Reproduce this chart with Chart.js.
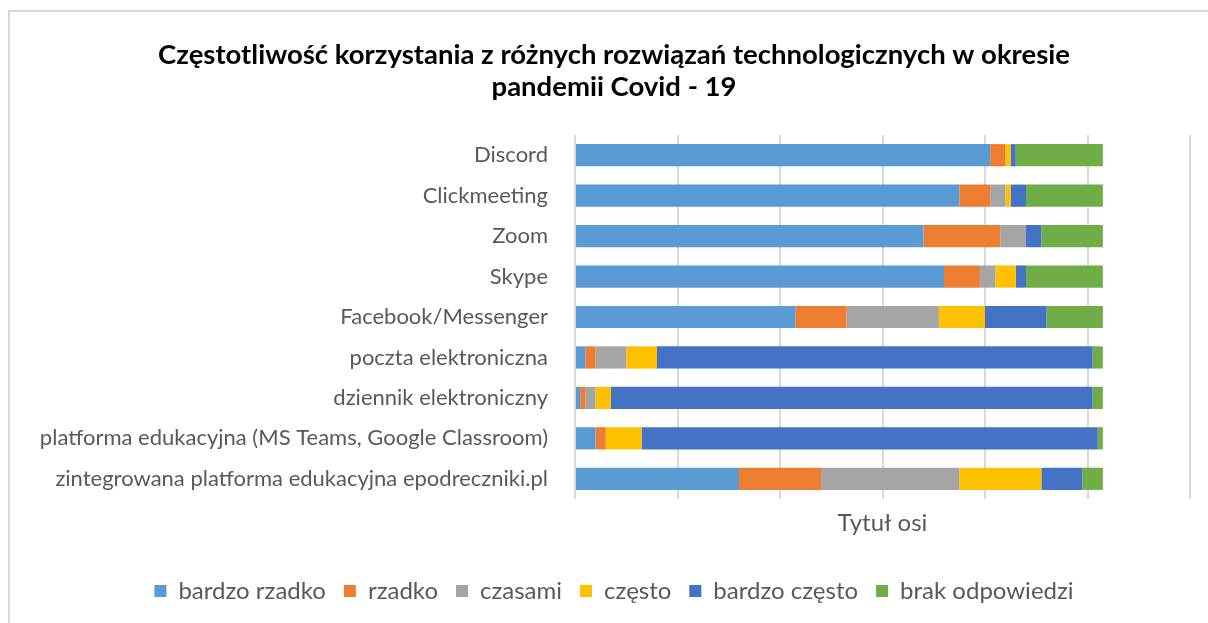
<!DOCTYPE html>
<html lang="pl">
<head>
<meta charset="utf-8">
<title>Częstotliwość korzystania z różnych rozwiązań technologicznych</title>
<script src="https://cdn.jsdelivr.net/npm/chart.js@4.4.0/dist/chart.umd.min.js"></script>
<style>
    html, body { margin: 0; padding: 0; background: #fff; overflow: hidden; }
    #frame {
        position: absolute; left: 8px; top: 10px; width: 1300px; height: 700px;
        border-left: 2px solid #d9d9d9; border-top: 2px solid #d9d9d9;
    }
    #wrap { position: absolute; left: 0; top: 0; width: 1208px; height: 623px; }
</style>
</head>
<body>
<div id="frame"></div>
<div id="wrap"><canvas id="chart" width="1208" height="623"></canvas></div>
<script>
// kategorie (od góry do dołu)
const categories = [
    'Discord',
    'Clickmeeting',
    'Zoom',
    'Skype',
    'Facebook/Messenger',
    'poczta elektroniczna',
    'dziennik elektroniczny',
    'platforma edukacyjna (MS Teams, Google Classroom)',
    'zintegrowana platforma edukacyjna epodreczniki.pl'
];

// liczba odpowiedzi dla każdej kategorii
const bardzoRzadko   = [81, 75, 68, 72, 43,  2,  1,  4, 32];
const rzadko         = [ 3,  6, 15,  7, 10,  2,  1,  2, 16];
const czasami        = [ 0,  3,  5,  3, 18,  6,  2,  0, 27];
const czesto         = [ 1,  1,  0,  4,  9,  6,  3,  7, 16];
const bardzoCzesto   = [ 1,  3,  3,  2, 12, 85, 94, 89,  8];
const brakOdpowiedzi = [17, 15, 12, 15, 11,  2,  2,  1,  4];

// oś X (bez etykiet, tylko linie siatki)
const xMin = 0;
const xMax = 120;
const xStep = 20;

const FONT = 'Lato, "Open Sans", sans-serif';
const GREY_TEXT = '#595959';

const makeSet = (label, data, color) => ({
    label,
    data,
    backgroundColor: color,
    borderWidth: 0,
    categoryPercentage: 1,
    barPercentage: 0.55
});

const ctx = document.getElementById('chart').getContext('2d');
new Chart(ctx, {
    type: 'bar',
    data: {
        labels: categories,
        datasets: [
            makeSet('bardzo rzadko', bardzoRzadko, '#5B9BD5'),
            makeSet('rzadko', rzadko, '#ED7D31'),
            makeSet('czasami', czasami, '#A5A5A5'),
            makeSet('często', czesto, '#FFC000'),
            makeSet('bardzo często', bardzoCzesto, '#4472C4'),
            makeSet('brak odpowiedzi', brakOdpowiedzi, '#70AD47')
        ]
    },
    options: {
        indexAxis: 'y',
        responsive: false,
        animation: false,
        devicePixelRatio: 1,
        layout: { padding: { left: 38, right: 18, top: 10, bottom: 10 } },
        plugins: {
            title: {
                display: true,
                text: [
                    'Częstotliwość korzystania z różnych rozwiązań technologicznych w okresie',
                    'pandemii Covid - 19'
                ],
                color: '#000',
                font: { family: FONT, size: 27.5, weight: 'bold', lineHeight: 32 / 27.5 },
                padding: { top: 29, bottom: 32 }
            },
            legend: {
                position: 'bottom',
                labels: {
                    boxWidth: 12,
                    boxHeight: 12,
                    padding: 18,
                    color: GREY_TEXT,
                    font: { family: FONT, size: 24 }
                }
            },
            tooltip: { enabled: false }
        },
        scales: {
            x: {
                stacked: true,
                min: xMin,
                max: xMax,
                ticks: { display: false, stepSize: xStep },
                grid: { color: '#d9d9d9', lineWidth: 2, drawTicks: false },
                border: { display: false },
                title: {
                    display: true,
                    text: 'Tytuł osi',
                    color: GREY_TEXT,
                    font: { family: FONT, size: 24 },
                    padding: { top: 9.6, bottom: 23.6 }
                }
            },
            y: {
                stacked: true,
                grid: { display: false, drawTicks: false },
                border: { display: false },
                ticks: {
                    padding: 27,
                    color: GREY_TEXT,
                    font: { family: FONT, size: 22 }
                },
                afterFit: (scale) => { scale.width = 537; }
            }
        }
    }
});
</script>
</body>
</html>
